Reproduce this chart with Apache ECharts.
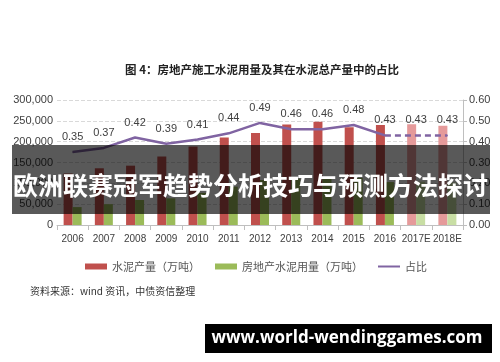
<!DOCTYPE html>
<html><head><meta charset="utf-8">
<script src="https://cdn.jsdelivr.net/npm/echarts@6/dist/echarts.min.js"></script>
<style>html,body{margin:0;padding:0;background:#fff}#c{width:500px;height:362px}</style>
</head><body><div id="c"></div>
<script>
var categories = ['2006','2007','2008','2009','2010','2011','2012','2013','2014','2015','2016','2017E','2018E'];
var cementOutput = [123700,136100,142400,164400,188200,209900,221000,241400,247600,234800,240300,242000,238000];
var realEstateCement = [43000,50000,60000,64000,77000,92000,108000,111000,114000,113000,103000,104000,102000];
var ratio = [0.35,0.37,0.42,0.39,0.41,0.44,0.49,0.46,0.46,0.48,0.43,0.43,0.43];
var leftTicks = [0,50000,100000,150000,200000,250000,300000];
var rightTicks = [0,0.1,0.2,0.3,0.4,0.5,0.6];
var estStart = 11; // index of first estimate

var chart = echarts.init(document.getElementById('c'));
var font = '"Liberation Sans", Arial, sans-serif';
var cjk = '"Noto Sans CJK SC", sans-serif';

var solid = ratio.map(function(v,i){return i<estStart?v:null;});
var dashed = ratio.map(function(v,i){return i>=estStart-1?v:null;});

var redData = cementOutput.map(function(v,i){return {value:v,itemStyle:{color:i>=estStart?'#e59a9a':'#c0504d'}};});
var greenData = realEstateCement.map(function(v,i){return {value:v,itemStyle:{color:i>=estStart?'#c8dea4':'#9bbb59'}};});

chart.setOption({
  animation:false,
  grid:{left:57,right:37,top:100,bottom:137},
  legend:{
    top:256, left:80, itemGap:15, itemWidth:22, itemHeight:6,
    textStyle:{fontSize:11,color:'#555',fontFamily:cjk},
    data:[{name:'水泥产量（万吨）',icon:'rect'},{name:'房地产水泥用量（万吨）',icon:'rect'},{name:'占比',icon:'path://M0,0H22V2H0Z'}]
  },
  xAxis:{
    type:'category', data:categories,
    axisLine:{lineStyle:{color:'#bfbfbf'}},
    axisTick:{show:true,length:5,interval:0,lineStyle:{color:'#bfbfbf'}},
    axisLabel:{interval:0,fontSize:10,color:'#404040',fontFamily:font,margin:9}
  },
  yAxis:[{
    type:'value', min:0, max:300000, interval:50000,
    axisLine:{show:false}, axisTick:{show:false},
    splitLine:{lineStyle:{color:'#d9d9d9',type:'dashed'}},
    axisLabel:{fontSize:11,color:'#404040',fontFamily:font,margin:4,
      formatter:function(v){return v===0?'0':v.toLocaleString('en-US');}}
  },{
    type:'value', min:0, max:0.6, interval:0.1,
    axisLine:{show:true,lineStyle:{color:'#bfbfbf'}},
    axisTick:{show:true,length:4,lineStyle:{color:'#bfbfbf'}},
    splitLine:{show:false},
    axisLabel:{fontSize:11,color:'#404040',fontFamily:font,margin:6,formatter:function(v){return v.toFixed(2);}}
  }],
  series:[
    {name:'水泥产量（万吨）',type:'bar',data:redData,barWidth:9,barGap:'0%',itemStyle:{color:'#c0504d'}},
    {name:'房地产水泥用量（万吨）',type:'bar',data:greenData,barWidth:9,barGap:'0%',itemStyle:{color:'#9bbb59'}},
    {name:'占比',type:'line',yAxisIndex:1,data:solid,symbol:'circle',symbolSize:1,
      lineStyle:{color:'#8064a2',width:2.5},itemStyle:{color:'#8064a2'},
      label:{show:true,position:'top',distance:9,fontSize:11,color:'#404040',fontFamily:font,formatter:function(p){return p.value.toFixed(2);}}},
    {name:'占比E',type:'line',yAxisIndex:1,data:dashed,symbol:'circle',symbolSize:1,
      lineStyle:{color:'#8064a2',width:2.5,type:[6,4]},itemStyle:{color:'#8064a2'},
      label:{show:true,position:'top',distance:9,fontSize:11,color:'#404040',fontFamily:font,
        formatter:function(p){return p.dataIndex>=estStart?p.value.toFixed(2):'';}}}
  ],
  graphic:[
    {type:'text',x:262,y:70,style:{text:'图 4：房地产施工水泥用量及其在水泥总产量中的占比',align:'center',verticalAlign:'middle',fontSize:11.5,fontWeight:'bold',fill:'#222',fontFamily:cjk}},
    {type:'text',x:30,y:291,style:{text:'资料来源：wind 资讯，中债资信整理',align:'left',verticalAlign:'middle',fontSize:10,fill:'#333',fontFamily:cjk}},
    {type:'rect',shape:{x:12,y:145,width:478,height:69},style:{fill:'rgba(0,0,0,0.65)'},z:100},
    {type:'text',x:13,y:185,z:101,style:{text:'欧洲联赛冠军趋势分析技巧与预测方法探讨',align:'left',verticalAlign:'middle',fontSize:25,fontWeight:'bold',fill:'#fff',fontFamily:cjk}},
    {type:'rect',shape:{x:205,y:324,width:287,height:29},style:{fill:'#000'},z:100},
    {type:'text',x:347,y:338,z:101,style:{text:'www.world-wendinggames.com',align:'center',verticalAlign:'middle',fontSize:17,fontWeight:'bold',fill:'#fff',fontFamily:'"Open Sans", sans-serif'}}
  ]
});
</script></body></html>
